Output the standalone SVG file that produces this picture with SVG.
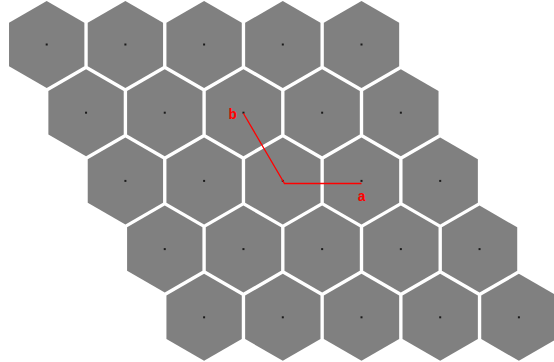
<svg xmlns="http://www.w3.org/2000/svg" xmlns:xlink="http://www.w3.org/1999/xlink" width="554" height="362" viewBox="0 0 554 362">
<style>
.hex{fill:#808080}
.dot{fill:#1a1a1a}
.lbl{font-family:"Liberation Mono",monospace;font-weight:bold;font-size:14px;fill:#ff0000}
.conn{fill:none;stroke:#ff0000;stroke-width:1.3}
</style>
<defs>
<polygon id="h" class="hex" points="0,-43.5 37.67,-21.75 37.67,21.75 0,43.5 -37.67,21.75 -37.67,-21.75"/>
<g id="cell"><use xlink:href="#h"/><rect class="dot" x="-1" y="-1" width="2" height="2"/></g>
</defs>
<rect width="554" height="362" fill="#ffffff"/>
<g id="r0c0" transform="translate(46.7,44.5)"><use xlink:href="#cell"/></g>
<g id="r0c1" transform="translate(125.4,44.5)"><use xlink:href="#cell"/></g>
<g id="r0c2" transform="translate(204.1,44.5)"><use xlink:href="#cell"/></g>
<g id="r0c3" transform="translate(282.8,44.5)"><use xlink:href="#cell"/></g>
<g id="r0c4" transform="translate(361.5,44.5)"><use xlink:href="#cell"/></g>
<g id="r1c0" transform="translate(86.05,112.7)"><use xlink:href="#cell"/></g>
<g id="r1c1" transform="translate(164.75,112.7)"><use xlink:href="#cell"/></g>
<g id="r1c2" transform="translate(243.45,112.7)"><use xlink:href="#cell"/></g>
<g id="r1c3" transform="translate(322.15,112.7)"><use xlink:href="#cell"/></g>
<g id="r1c4" transform="translate(400.85,112.7)"><use xlink:href="#cell"/></g>
<g id="r2c0" transform="translate(125.4,180.9)"><use xlink:href="#cell"/></g>
<g id="r2c1" transform="translate(204.1,180.9)"><use xlink:href="#cell"/></g>
<g id="r2c2" transform="translate(282.8,180.9)"><use xlink:href="#cell"/></g>
<g id="r2c3" transform="translate(361.5,180.9)"><use xlink:href="#cell"/></g>
<g id="r2c4" transform="translate(440.2,180.9)"><use xlink:href="#cell"/></g>
<g id="r3c0" transform="translate(164.75,249.1)"><use xlink:href="#cell"/></g>
<g id="r3c1" transform="translate(243.45,249.1)"><use xlink:href="#cell"/></g>
<g id="r3c2" transform="translate(322.15,249.1)"><use xlink:href="#cell"/></g>
<g id="r3c3" transform="translate(400.85,249.1)"><use xlink:href="#cell"/></g>
<g id="r3c4" transform="translate(479.55,249.1)"><use xlink:href="#cell"/></g>
<g id="r4c0" transform="translate(204.1,317.3)"><use xlink:href="#cell"/></g>
<g id="r4c1" transform="translate(282.8,317.3)"><use xlink:href="#cell"/></g>
<g id="r4c2" transform="translate(361.5,317.3)"><use xlink:href="#cell"/></g>
<g id="r4c3" transform="translate(440.2,317.3)"><use xlink:href="#cell"/></g>
<g id="r4c4" transform="translate(518.9,317.3)"><use xlink:href="#cell"/></g>
<g id="connectors">
<path class="conn" d="M243.5,113.5 L284.5,183.5 H361.5"/>
</g>
<g id="labels">
<text class="lbl" x="228.5" y="118.5">b</text>
<text class="lbl" x="357.5" y="201">a</text>
</g>
</svg>
